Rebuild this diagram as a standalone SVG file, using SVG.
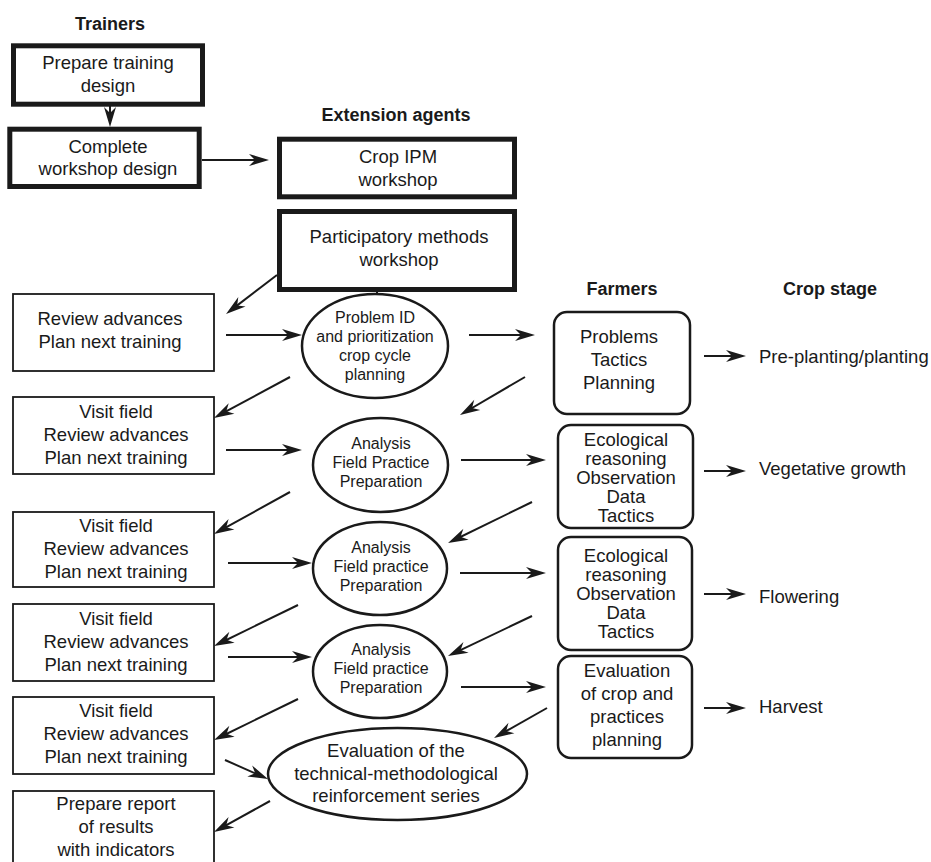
<svg xmlns="http://www.w3.org/2000/svg" width="931" height="862" viewBox="0 0 931 862">
  <style>
    text { font-family: "Liberation Sans", Arial, sans-serif; font-size: 18.5px; fill: #1a1a1a; text-anchor: middle; }
    .hdr { font-weight: bold; font-size: 18px; }
    .sm { font-size: 16px; }
    .lt { text-anchor: start; }
    .thick { fill: #fff; stroke: #1a1a1a; stroke-width: 5; }
    .thin { fill: #fff; stroke: #1a1a1a; stroke-width: 1.8; }
    .round { fill: #fff; stroke: #1a1a1a; stroke-width: 2.5; }
    .oval { fill: #fff; stroke: #1a1a1a; stroke-width: 2.5; }
    .link { fill: none; stroke: #1a1a1a; stroke-width: 2; }
    .arr { marker-end: url(#head); }
  </style>
  <defs>
    <!-- barbed arrowhead; tip sits 8px beyond the line end -->
    <marker id="head" markerUnits="userSpaceOnUse" viewBox="-13 -7 22 14" markerWidth="22" markerHeight="14" refX="0" refY="0" orient="auto">
      <path d="M8,0 L-12,-6 L-6,0 L-12,6 Z" fill="#1a1a1a"/>
    </marker>
  </defs>

  <rect width="931" height="862" fill="#fff"/>

  <!-- column headings -->
  <text class="hdr" x="110" y="30">Trainers</text>
  <text class="hdr" x="396" y="121">Extension agents</text>
  <text class="hdr" x="622" y="295">Farmers</text>
  <text class="hdr" x="830" y="295">Crop stage</text>

  <!-- connectors -->
  <g id="connectors">
    <line class="link arr" x1="110" y1="106" x2="110" y2="119"/>
    <line class="link arr" x1="202" y1="160" x2="261" y2="160"/>
    <line class="link arr" x1="277" y1="275" x2="232.4" y2="309.1"/>
    <line class="link" x1="377" y1="290" x2="377" y2="294"/>
    <line class="link arr" x1="226" y1="335" x2="294" y2="335"/>
    <line class="link arr" x1="469" y1="335" x2="527" y2="335"/>
    <line class="link arr" x1="704" y1="356" x2="738" y2="356"/>
    <line class="link arr" x1="525" y1="377" x2="466.9" y2="411"/>
    <line class="link arr" x1="290" y1="377" x2="221" y2="414.2"/>
    <line class="link arr" x1="226" y1="450" x2="294" y2="450"/>
    <line class="link arr" x1="461" y1="460" x2="538" y2="460"/>
    <line class="link arr" x1="704" y1="471" x2="738" y2="471"/>
    <line class="link arr" x1="532" y1="502" x2="455.2" y2="539.5"/>
    <line class="link arr" x1="290" y1="492" x2="221" y2="530.1"/>
    <line class="link arr" x1="228" y1="563" x2="304" y2="563"/>
    <line class="link arr" x1="460" y1="573" x2="538" y2="573"/>
    <line class="link arr" x1="704" y1="594" x2="738" y2="594"/>
    <line class="link arr" x1="532" y1="616" x2="455.2" y2="652.6"/>
    <line class="link arr" x1="298" y1="605" x2="221.2" y2="642.5"/>
    <line class="link arr" x1="228" y1="657" x2="304" y2="657"/>
    <line class="link arr" x1="461" y1="687" x2="538" y2="687"/>
    <line class="link arr" x1="704" y1="708" x2="738" y2="708"/>
    <line class="link arr" x1="547" y1="708" x2="501" y2="734"/>
    <line class="link arr" x1="298" y1="699" x2="221.2" y2="736.5"/>
    <line class="link arr" x1="225" y1="760" x2="260.7" y2="775.8"/>
    <line class="link arr" x1="270" y1="801" x2="221" y2="828.1"/>
  </g>

  <!-- trainers -->
  <g id="prepare-design">
    <rect class="thick" x="13.5" y="45.8" width="189" height="58.4"/>
    <text x="108" y="69">Prepare training</text>
    <text x="108" y="92">design</text>
  </g>
  <g id="complete-design">
    <rect class="thick" x="9.8" y="129.2" width="189.4" height="57.3"/>
    <text x="108" y="153">Complete</text>
    <text x="108" y="175">workshop design</text>
  </g>

  <!-- extension agents: workshops -->
  <g id="crop-ipm">
    <rect class="thick" x="279.5" y="139.2" width="235" height="57.6"/>
    <text x="398" y="163">Crop IPM</text>
    <text x="398" y="186">workshop</text>
  </g>
  <g id="participatory">
    <rect class="thick" x="279.5" y="211.5" width="235" height="78"/>
    <text x="399" y="243">Participatory methods</text>
    <text x="399" y="266">workshop</text>
  </g>

  <!-- extension agents: left column -->
  <g id="agents-1">
    <rect class="thin" x="13" y="294" width="201" height="77"/>
    <text x="110" y="325">Review advances</text>
    <text x="110" y="348">Plan next training</text>
  </g>
  <g id="agents-2">
    <rect class="thin" x="13" y="397" width="201" height="77"/>
    <text x="116" y="418">Visit field</text>
    <text x="116" y="441">Review advances</text>
    <text x="116" y="464">Plan next training</text>
  </g>
  <g id="agents-3">
    <rect class="thin" x="13" y="512" width="201" height="75"/>
    <text x="116" y="532">Visit field</text>
    <text x="116" y="555">Review advances</text>
    <text x="116" y="578">Plan next training</text>
  </g>
  <g id="agents-4">
    <rect class="thin" x="13" y="604" width="201" height="77"/>
    <text x="116" y="625">Visit field</text>
    <text x="116" y="648">Review advances</text>
    <text x="116" y="671">Plan next training</text>
  </g>
  <g id="agents-5">
    <rect class="thin" x="13" y="697" width="201" height="77"/>
    <text x="116" y="717">Visit field</text>
    <text x="116" y="740">Review advances</text>
    <text x="116" y="763">Plan next training</text>
  </g>
  <g id="report">
    <rect class="thin" x="13" y="791" width="201" height="90"/>
    <text x="116" y="810">Prepare report</text>
    <text x="116" y="833">of results</text>
    <text x="116" y="856">with indicators</text>
  </g>

  <!-- extension agents: sessions -->
  <g id="session-1">
    <ellipse class="oval" cx="375" cy="346" rx="73" ry="52"/>
    <text class="sm" x="375" y="323">Problem ID</text>
    <text class="sm" x="375" y="342">and prioritization</text>
    <text class="sm" x="375" y="361">crop cycle</text>
    <text class="sm" x="375" y="380">planning</text>
  </g>
  <g id="session-2">
    <ellipse class="oval" cx="380.5" cy="465" rx="67.5" ry="47"/>
    <text class="sm" x="381" y="449">Analysis</text>
    <text class="sm" x="381" y="468">Field Practice</text>
    <text class="sm" x="381" y="487">Preparation</text>
  </g>
  <g id="session-3">
    <ellipse class="oval" cx="380" cy="568.5" rx="67" ry="46.5"/>
    <text class="sm" x="381" y="553">Analysis</text>
    <text class="sm" x="381" y="572">Field practice</text>
    <text class="sm" x="381" y="591">Preparation</text>
  </g>
  <g id="session-4">
    <ellipse class="oval" cx="380" cy="671.5" rx="67" ry="46.5"/>
    <text class="sm" x="381" y="655">Analysis</text>
    <text class="sm" x="381" y="674">Field practice</text>
    <text class="sm" x="381" y="693">Preparation</text>
  </g>
  <g id="evaluation-series">
    <ellipse class="oval" cx="397.5" cy="774" rx="129.5" ry="46"/>
    <text x="396" y="757">Evaluation of the</text>
    <text x="396" y="780">technical-methodological</text>
    <text x="396" y="802">reinforcement series</text>
  </g>

  <!-- farmers -->
  <g id="farmers-1">
    <rect class="round" x="554" y="312" width="136" height="102" rx="13"/>
    <text x="619" y="343">Problems</text>
    <text x="619" y="366">Tactics</text>
    <text x="619" y="389">Planning</text>
  </g>
  <g id="farmers-2">
    <rect class="round" x="558" y="425" width="135" height="103" rx="13"/>
    <text x="626" y="446">Ecological</text>
    <text x="626" y="465">reasoning</text>
    <text x="626" y="484">Observation</text>
    <text x="626" y="503">Data</text>
    <text x="626" y="522">Tactics</text>
  </g>
  <g id="farmers-3">
    <rect class="round" x="558" y="537" width="134" height="113" rx="13"/>
    <text x="626" y="562">Ecological</text>
    <text x="626" y="581">reasoning</text>
    <text x="626" y="600">Observation</text>
    <text x="626" y="619">Data</text>
    <text x="626" y="638">Tactics</text>
  </g>
  <g id="farmers-4">
    <rect class="round" x="558" y="656" width="134" height="102" rx="13"/>
    <text x="627" y="677">Evaluation</text>
    <text x="627" y="700">of crop and</text>
    <text x="627" y="723">practices</text>
    <text x="627" y="746">planning</text>
  </g>

  <!-- crop stages -->
  <g id="stage-1"><text class="lt" x="759" y="363">Pre-planting/planting</text></g>
  <g id="stage-2"><text class="lt" x="759" y="475">Vegetative growth</text></g>
  <g id="stage-3"><text class="lt" x="759" y="603">Flowering</text></g>
  <g id="stage-4"><text class="lt" x="759" y="713">Harvest</text></g>
</svg>
